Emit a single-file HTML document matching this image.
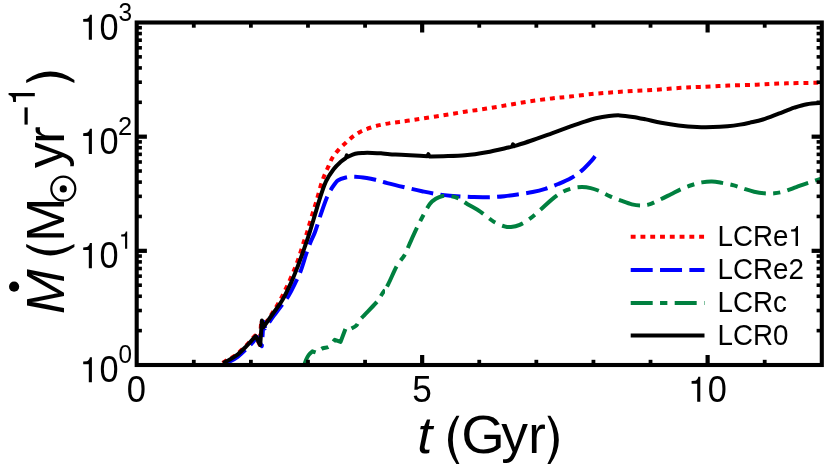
<!DOCTYPE html><html><head><meta charset="utf-8"><title>SFR</title>
<style>html,body{margin:0;padding:0;background:#fff;}svg{display:block;will-change:transform;}text{font-family:"Liberation Sans",sans-serif;fill:#000;}</style></head><body>
<svg width="830" height="471" viewBox="0 0 830 471">
<rect x="0" y="0" width="830" height="471" fill="#fff"/>
<defs><clipPath id="ax"><rect x="136.70" y="22.50" width="685.10" height="342.50"/></clipPath><clipPath id="bA"><rect x="0" y="0" width="450" height="471"/></clipPath><clipPath id="bB"><rect x="450" y="0" width="400" height="471"/></clipPath><clipPath id="gA"><rect x="0" y="0" width="385.00" height="471"/></clipPath><clipPath id="gB"><rect x="385.00" y="0" width="500" height="471"/></clipPath></defs>
<g clip-path="url(#ax)" fill="none" stroke-width="4.00" stroke-linejoin="round" stroke-linecap="butt">
<path d="M222.60 362.85 C223.00 362.60 222.85 362.62 225.00 361.35 C227.15 360.08 232.05 357.83 235.50 355.25 C238.95 352.67 242.43 349.12 245.70 345.85 C248.97 342.58 253.53 337.35 255.10 335.65 C255.85 337.13 258.85 343.07 259.60 344.55 C259.88 340.48 261.02 324.22 261.30 320.15 C261.57 321.25 262.63 325.65 262.90 326.75 C264.37 324.63 268.43 319.24 271.70 314.05 C274.97 308.86 278.53 303.49 282.50 295.60 C286.47 287.71 291.88 275.85 295.50 266.70 C299.12 257.55 302.23 246.57 304.20 240.70 C306.17 234.83 306.03 235.62 307.30 231.50 C308.57 227.38 310.33 220.87 311.80 216.00 C313.27 211.13 314.53 207.60 316.10 202.30 C317.67 197.00 319.73 188.90 321.20 184.20 C322.67 179.50 323.63 177.20 324.90 174.10 C326.17 171.00 327.55 168.32 328.80 165.60 C330.05 162.88 330.72 160.52 332.40 157.80 C334.08 155.08 336.62 151.83 338.90 149.30 C341.18 146.77 343.68 144.78 346.10 142.60 C348.52 140.42 350.85 138.10 353.40 136.20 C355.95 134.30 358.47 132.65 361.40 131.20 C364.33 129.75 367.77 128.55 371.00 127.50 C374.23 126.45 377.63 125.63 380.80 124.90 C383.97 124.17 386.92 123.60 390.00 123.10 C393.08 122.60 396.07 122.32 399.30 121.90 C402.53 121.48 405.67 121.13 409.40 120.60 C413.13 120.07 416.03 119.58 421.70 118.70 C427.37 117.82 436.17 116.47 443.40 115.30 C450.63 114.13 457.88 112.82 465.10 111.70 C472.32 110.58 479.48 109.73 486.70 108.60 C493.92 107.47 501.17 106.12 508.40 104.90 C515.63 103.68 522.87 102.38 530.10 101.30 C537.33 100.22 545.15 99.18 551.80 98.40 C558.45 97.62 563.35 97.33 570.00 96.60 C576.65 95.87 584.47 94.72 591.70 94.00 C598.93 93.28 606.17 92.83 613.40 92.30 C620.63 91.77 627.88 91.23 635.10 90.80 C642.32 90.37 649.48 90.17 656.70 89.70 C663.92 89.23 671.17 88.47 678.40 88.00 C685.63 87.53 691.78 87.30 700.10 86.90 C708.42 86.50 718.88 85.97 728.30 85.60 C737.72 85.23 748.22 85.03 756.60 84.70 C764.98 84.37 771.78 83.87 778.60 83.60 C785.42 83.33 790.18 83.25 797.50 83.10 C804.82 82.95 818.33 82.77 822.50 82.70" stroke="#ff0000" stroke-dasharray="4.89 4.89" stroke-dashoffset="0"/>
<path d="M224.80 364.40 C225.20 364.15 225.05 364.17 227.20 362.90 C229.35 361.63 234.25 359.38 237.70 356.80 C241.15 354.22 244.63 350.67 247.90 347.40 C251.17 344.13 255.73 338.90 257.30 337.20 C258.05 338.68 261.05 344.62 261.80 346.10 C262.08 342.03 263.22 325.77 263.50 321.70 C263.77 322.80 264.83 327.20 265.10 328.30 C266.57 326.18 270.05 320.93 273.90 315.60 C277.75 310.27 284.50 302.03 288.20 296.30 C291.90 290.57 293.93 285.65 296.10 281.20 C298.27 276.75 299.50 274.18 301.20 269.60 C302.90 265.02 304.73 258.28 306.30 253.70 C307.87 249.12 309.12 245.80 310.60 242.10 C312.08 238.40 313.43 236.32 315.20 231.50 C316.97 226.68 319.23 218.90 321.20 213.20 C323.17 207.50 325.20 201.52 327.00 197.30 C328.80 193.08 330.17 190.73 332.00 187.90 C333.83 185.07 335.58 182.05 338.00 180.30 C340.42 178.55 343.63 178.00 346.50 177.40 C349.37 176.80 351.83 176.60 355.20 176.70 C358.57 176.80 363.33 177.48 366.70 178.00 C370.07 178.52 371.97 178.95 375.40 179.80 C378.83 180.65 382.42 181.85 387.30 183.10 C392.18 184.35 398.92 185.95 404.70 187.30 C410.48 188.65 416.22 190.00 422.00 191.20 C427.78 192.40 433.62 193.67 439.40 194.50 C445.18 195.33 450.92 195.77 456.70 196.20 C462.48 196.63 468.32 196.95 474.10 197.10 C479.88 197.25 486.33 197.25 491.40 197.10 C496.47 196.95 500.15 196.63 504.50 196.20 C508.85 195.77 512.82 195.20 517.50 194.50 C522.18 193.80 527.98 192.95 532.60 192.00 C537.22 191.05 540.93 190.13 545.20 188.80 C549.47 187.47 553.87 185.80 558.20 184.00 C562.53 182.20 567.23 180.27 571.20 178.00 C575.17 175.73 578.75 173.12 582.00 170.40 C585.25 167.68 588.52 164.05 590.70 161.70 C592.88 159.35 594.37 157.20 595.10 156.30" stroke="#0000ff" stroke-dasharray="22 7.33" stroke-dashoffset="-3.3" clip-path="url(#bA)"/>
<path d="M224.80 364.40 C225.20 364.15 225.05 364.17 227.20 362.90 C229.35 361.63 234.25 359.38 237.70 356.80 C241.15 354.22 244.63 350.67 247.90 347.40 C251.17 344.13 255.73 338.90 257.30 337.20 C258.05 338.68 261.05 344.62 261.80 346.10 C262.08 342.03 263.22 325.77 263.50 321.70 C263.77 322.80 264.83 327.20 265.10 328.30 C266.57 326.18 270.05 320.93 273.90 315.60 C277.75 310.27 284.50 302.03 288.20 296.30 C291.90 290.57 293.93 285.65 296.10 281.20 C298.27 276.75 299.50 274.18 301.20 269.60 C302.90 265.02 304.73 258.28 306.30 253.70 C307.87 249.12 309.12 245.80 310.60 242.10 C312.08 238.40 313.43 236.32 315.20 231.50 C316.97 226.68 319.23 218.90 321.20 213.20 C323.17 207.50 325.20 201.52 327.00 197.30 C328.80 193.08 330.17 190.73 332.00 187.90 C333.83 185.07 335.58 182.05 338.00 180.30 C340.42 178.55 343.63 178.00 346.50 177.40 C349.37 176.80 351.83 176.60 355.20 176.70 C358.57 176.80 363.33 177.48 366.70 178.00 C370.07 178.52 371.97 178.95 375.40 179.80 C378.83 180.65 382.42 181.85 387.30 183.10 C392.18 184.35 398.92 185.95 404.70 187.30 C410.48 188.65 416.22 190.00 422.00 191.20 C427.78 192.40 433.62 193.67 439.40 194.50 C445.18 195.33 450.92 195.77 456.70 196.20 C462.48 196.63 468.32 196.95 474.10 197.10 C479.88 197.25 486.33 197.25 491.40 197.10 C496.47 196.95 500.15 196.63 504.50 196.20 C508.85 195.77 512.82 195.20 517.50 194.50 C522.18 193.80 527.98 192.95 532.60 192.00 C537.22 191.05 540.93 190.13 545.20 188.80 C549.47 187.47 553.87 185.80 558.20 184.00 C562.53 182.20 567.23 180.27 571.20 178.00 C575.17 175.73 578.75 173.12 582.00 170.40 C585.25 167.68 588.52 164.05 590.70 161.70 C592.88 159.35 594.37 157.20 595.10 156.30" stroke="#0000ff" stroke-dasharray="22 7.33" stroke-dashoffset="-1.4" clip-path="url(#bB)"/>
<path d="M304.00 366.00 C304.33 365.00 305.20 361.85 306.00 360.00 C306.80 358.15 307.73 356.35 308.80 354.90 C309.87 353.45 311.80 351.90 312.40 351.30 C313.12 351.55 315.98 352.55 316.70 352.80 C317.67 352.07 320.45 349.43 322.50 348.40 C324.55 347.37 326.95 348.03 329.00 346.60 C331.05 345.17 333.83 340.93 334.80 339.80 C335.77 340.15 339.63 341.55 340.60 341.90 C341.45 339.62 344.85 330.48 345.70 328.20 C346.53 328.32 349.87 328.78 350.70 328.90 C351.67 328.30 354.82 326.98 356.50 325.30 C358.18 323.62 357.55 322.53 360.80 318.80 C364.05 315.07 372.50 306.95 376.00 302.90 C379.50 298.85 379.77 297.60 381.80 294.50 C383.83 291.40 385.73 288.98 388.20 284.30 C390.67 279.62 393.87 271.28 396.60 266.40 C399.33 261.52 402.43 258.77 404.60 255.00 C406.77 251.23 407.52 248.38 409.60 243.80 C411.68 239.22 414.77 232.35 417.10 227.50 C419.43 222.65 421.48 218.62 423.60 214.70 C425.72 210.78 427.77 206.65 429.80 204.00 C431.83 201.35 433.65 200.13 435.80 198.80 C437.95 197.47 440.30 196.47 442.70 196.00 C445.10 195.53 447.57 195.60 450.20 196.00 C452.83 196.40 455.60 197.03 458.50 198.40 C461.40 199.77 463.92 201.97 467.60 204.20 C471.28 206.43 476.27 208.90 480.60 211.80 C484.93 214.70 489.62 219.18 493.60 221.60 C497.58 224.02 501.60 225.40 504.50 226.30 C507.40 227.20 508.47 227.25 511.00 227.00 C513.53 226.75 516.48 226.23 519.70 224.80 C522.92 223.37 526.75 220.98 530.30 218.40 C533.85 215.82 537.43 212.43 541.00 209.30 C544.57 206.17 548.12 202.48 551.70 199.60 C555.28 196.72 558.88 193.92 562.50 192.00 C566.12 190.08 570.15 188.92 573.40 188.10 C576.65 187.28 579.12 187.10 582.00 187.10 C584.88 187.10 587.80 187.45 590.70 188.10 C593.60 188.75 596.15 189.62 599.40 191.00 C602.65 192.38 606.58 194.78 610.20 196.40 C613.82 198.02 617.48 199.37 621.10 200.70 C624.72 202.03 628.65 203.60 631.90 204.40 C635.15 205.20 637.70 205.50 640.60 205.50 C643.50 205.50 646.05 205.38 649.30 204.40 C652.55 203.42 656.48 201.30 660.10 199.60 C663.72 197.90 667.38 196.00 671.00 194.20 C674.62 192.40 678.30 190.33 681.80 188.80 C685.30 187.27 688.67 186.07 692.00 185.00 C695.33 183.93 698.48 182.98 701.80 182.40 C705.12 181.82 708.53 181.42 711.90 181.50 C715.27 181.58 718.33 182.25 722.00 182.90 C725.67 183.55 730.23 184.42 733.90 185.40 C737.57 186.38 740.63 187.75 744.00 188.80 C747.37 189.85 750.73 190.95 754.10 191.70 C757.47 192.45 760.83 193.03 764.20 193.30 C767.57 193.57 770.92 193.63 774.30 193.30 C777.68 192.97 780.83 192.33 784.50 191.30 C788.17 190.27 792.37 188.50 796.30 187.10 C800.23 185.70 803.73 184.37 808.10 182.90 C812.47 181.43 820.10 179.07 822.50 178.30" stroke="#00803f" stroke-dasharray="22 7.33 7.33 7.33" stroke-dashoffset="1.5" clip-path="url(#gA)"/>
<path d="M304.00 366.00 C304.33 365.00 305.20 361.85 306.00 360.00 C306.80 358.15 307.73 356.35 308.80 354.90 C309.87 353.45 311.80 351.90 312.40 351.30 C313.12 351.55 315.98 352.55 316.70 352.80 C317.67 352.07 320.45 349.43 322.50 348.40 C324.55 347.37 326.95 348.03 329.00 346.60 C331.05 345.17 333.83 340.93 334.80 339.80 C335.77 340.15 339.63 341.55 340.60 341.90 C341.45 339.62 344.85 330.48 345.70 328.20 C346.53 328.32 349.87 328.78 350.70 328.90 C351.67 328.30 354.82 326.98 356.50 325.30 C358.18 323.62 357.55 322.53 360.80 318.80 C364.05 315.07 372.50 306.95 376.00 302.90 C379.50 298.85 379.77 297.60 381.80 294.50 C383.83 291.40 385.73 288.98 388.20 284.30 C390.67 279.62 393.87 271.28 396.60 266.40 C399.33 261.52 402.43 258.77 404.60 255.00 C406.77 251.23 407.52 248.38 409.60 243.80 C411.68 239.22 414.77 232.35 417.10 227.50 C419.43 222.65 421.48 218.62 423.60 214.70 C425.72 210.78 427.77 206.65 429.80 204.00 C431.83 201.35 433.65 200.13 435.80 198.80 C437.95 197.47 440.30 196.47 442.70 196.00 C445.10 195.53 447.57 195.60 450.20 196.00 C452.83 196.40 455.60 197.03 458.50 198.40 C461.40 199.77 463.92 201.97 467.60 204.20 C471.28 206.43 476.27 208.90 480.60 211.80 C484.93 214.70 489.62 219.18 493.60 221.60 C497.58 224.02 501.60 225.40 504.50 226.30 C507.40 227.20 508.47 227.25 511.00 227.00 C513.53 226.75 516.48 226.23 519.70 224.80 C522.92 223.37 526.75 220.98 530.30 218.40 C533.85 215.82 537.43 212.43 541.00 209.30 C544.57 206.17 548.12 202.48 551.70 199.60 C555.28 196.72 558.88 193.92 562.50 192.00 C566.12 190.08 570.15 188.92 573.40 188.10 C576.65 187.28 579.12 187.10 582.00 187.10 C584.88 187.10 587.80 187.45 590.70 188.10 C593.60 188.75 596.15 189.62 599.40 191.00 C602.65 192.38 606.58 194.78 610.20 196.40 C613.82 198.02 617.48 199.37 621.10 200.70 C624.72 202.03 628.65 203.60 631.90 204.40 C635.15 205.20 637.70 205.50 640.60 205.50 C643.50 205.50 646.05 205.38 649.30 204.40 C652.55 203.42 656.48 201.30 660.10 199.60 C663.72 197.90 667.38 196.00 671.00 194.20 C674.62 192.40 678.30 190.33 681.80 188.80 C685.30 187.27 688.67 186.07 692.00 185.00 C695.33 183.93 698.48 182.98 701.80 182.40 C705.12 181.82 708.53 181.42 711.90 181.50 C715.27 181.58 718.33 182.25 722.00 182.90 C725.67 183.55 730.23 184.42 733.90 185.40 C737.57 186.38 740.63 187.75 744.00 188.80 C747.37 189.85 750.73 190.95 754.10 191.70 C757.47 192.45 760.83 193.03 764.20 193.30 C767.57 193.57 770.92 193.63 774.30 193.30 C777.68 192.97 780.83 192.33 784.50 191.30 C788.17 190.27 792.37 188.50 796.30 187.10 C800.23 185.70 803.73 184.37 808.10 182.90 C812.47 181.43 820.10 179.07 822.50 178.30" stroke="#00803f" stroke-dasharray="22 7.33 7.33 7.33" stroke-dashoffset="4.8" clip-path="url(#gB)"/>
<path d="M223.20 363.30 C223.60 363.05 223.45 363.07 225.60 361.80 C227.75 360.53 232.65 358.28 236.10 355.70 C239.55 353.12 243.03 349.57 246.30 346.30 C249.57 343.03 254.13 337.80 255.70 336.10 C256.45 337.58 259.45 343.52 260.20 345.00 C260.48 340.93 261.62 324.67 261.90 320.60 C262.17 321.70 263.23 326.10 263.50 327.20 C264.97 325.08 269.15 319.03 272.30 314.50 C275.45 309.97 279.27 305.32 282.40 300.00 C285.53 294.68 288.57 288.15 291.10 282.60 C293.63 277.05 295.55 272.00 297.60 266.70 C299.65 261.40 301.40 256.48 303.40 250.80 C305.40 245.12 307.67 238.63 309.60 232.60 C311.53 226.57 313.23 220.48 315.00 214.60 C316.77 208.72 318.37 202.85 320.20 197.30 C322.03 191.75 323.77 185.98 326.00 181.30 C328.23 176.62 331.13 172.45 333.60 169.20 C336.07 165.95 338.77 163.65 340.80 161.80 C342.83 159.95 344.97 158.73 345.80 158.12 C345.97 157.66 346.63 155.81 346.80 155.34 C346.93 155.61 347.47 156.69 347.60 156.96 C348.87 156.42 352.53 154.38 355.20 153.70 C357.87 153.02 360.75 153.03 363.60 152.90 C366.45 152.77 369.40 152.83 372.30 152.90 C375.20 152.97 378.12 153.07 381.00 153.30 C383.88 153.53 386.23 154.05 389.60 154.30 C392.97 154.55 396.13 154.55 401.20 154.80 C406.27 155.05 415.63 155.57 420.00 155.80 C424.37 156.03 426.17 156.12 427.40 156.18 C427.57 155.85 428.23 154.53 428.40 154.20 C428.53 154.57 429.07 156.04 429.20 156.41 C431.57 156.38 437.42 156.39 443.40 156.20 C449.38 156.01 457.88 155.97 465.10 155.30 C472.32 154.63 479.48 153.50 486.70 152.20 C493.92 150.90 504.18 148.43 508.40 147.50 C512.62 146.57 511.40 146.77 512.00 146.62 C512.17 146.24 512.83 144.71 513.00 144.32 C513.13 144.65 513.67 145.96 513.80 146.28 C516.52 145.40 523.77 143.16 530.10 141.00 C536.43 138.84 545.15 135.68 551.80 133.30 C558.45 130.92 564.80 128.55 570.00 126.70 C575.20 124.85 578.67 123.60 583.00 122.20 C587.33 120.80 591.67 119.33 596.00 118.30 C600.33 117.27 605.02 116.48 609.00 116.00 C612.98 115.52 615.92 115.25 619.90 115.40 C623.88 115.55 628.57 116.23 632.90 116.90 C637.23 117.57 641.20 118.43 645.90 119.40 C650.60 120.37 655.68 121.70 661.10 122.70 C666.52 123.70 672.42 124.68 678.40 125.40 C684.38 126.12 691.23 126.72 697.00 127.00 C702.77 127.28 707.92 127.23 713.00 127.10 C718.08 126.97 723.00 126.62 727.50 126.20 C732.00 125.78 736.25 125.20 740.00 124.60 C743.75 124.00 746.18 123.45 750.00 122.60 C753.82 121.75 758.13 120.98 762.90 119.50 C767.67 118.02 773.37 115.67 778.60 113.70 C783.83 111.73 789.58 109.28 794.30 107.70 C799.02 106.12 802.20 105.02 806.90 104.20 C811.60 103.38 819.90 103.03 822.50 102.80" stroke="#000"/>
</g>
<g stroke="#000" fill="none"><line x1="193.79" y1="365.00" x2="193.79" y2="359.80" stroke-width="3.8"/><line x1="193.79" y1="22.50" x2="193.79" y2="27.70" stroke-width="3.8"/><line x1="250.88" y1="365.00" x2="250.88" y2="359.80" stroke-width="3.8"/><line x1="250.88" y1="22.50" x2="250.88" y2="27.70" stroke-width="3.8"/><line x1="307.97" y1="365.00" x2="307.97" y2="359.80" stroke-width="3.8"/><line x1="307.97" y1="22.50" x2="307.97" y2="27.70" stroke-width="3.8"/><line x1="365.07" y1="365.00" x2="365.07" y2="359.80" stroke-width="3.8"/><line x1="365.07" y1="22.50" x2="365.07" y2="27.70" stroke-width="3.8"/><line x1="422.16" y1="365.00" x2="422.16" y2="355.00" stroke-width="4.2"/><line x1="422.16" y1="22.50" x2="422.16" y2="32.50" stroke-width="4.2"/><line x1="479.25" y1="365.00" x2="479.25" y2="359.80" stroke-width="3.8"/><line x1="479.25" y1="22.50" x2="479.25" y2="27.70" stroke-width="3.8"/><line x1="536.34" y1="365.00" x2="536.34" y2="359.80" stroke-width="3.8"/><line x1="536.34" y1="22.50" x2="536.34" y2="27.70" stroke-width="3.8"/><line x1="593.43" y1="365.00" x2="593.43" y2="359.80" stroke-width="3.8"/><line x1="593.43" y1="22.50" x2="593.43" y2="27.70" stroke-width="3.8"/><line x1="650.52" y1="365.00" x2="650.52" y2="359.80" stroke-width="3.8"/><line x1="650.52" y1="22.50" x2="650.52" y2="27.70" stroke-width="3.8"/><line x1="707.62" y1="365.00" x2="707.62" y2="355.00" stroke-width="4.2"/><line x1="707.62" y1="22.50" x2="707.62" y2="32.50" stroke-width="4.2"/><line x1="764.71" y1="365.00" x2="764.71" y2="359.80" stroke-width="3.8"/><line x1="764.71" y1="22.50" x2="764.71" y2="27.70" stroke-width="3.8"/><line x1="136.70" y1="330.63" x2="141.90" y2="330.63" stroke-width="3.6"/><line x1="821.80" y1="330.63" x2="816.60" y2="330.63" stroke-width="3.6"/><line x1="136.70" y1="310.53" x2="141.90" y2="310.53" stroke-width="3.6"/><line x1="821.80" y1="310.53" x2="816.60" y2="310.53" stroke-width="3.6"/><line x1="136.70" y1="296.26" x2="141.90" y2="296.26" stroke-width="3.6"/><line x1="821.80" y1="296.26" x2="816.60" y2="296.26" stroke-width="3.6"/><line x1="136.70" y1="285.20" x2="141.90" y2="285.20" stroke-width="3.6"/><line x1="821.80" y1="285.20" x2="816.60" y2="285.20" stroke-width="3.6"/><line x1="136.70" y1="276.16" x2="141.90" y2="276.16" stroke-width="3.6"/><line x1="821.80" y1="276.16" x2="816.60" y2="276.16" stroke-width="3.6"/><line x1="136.70" y1="268.52" x2="141.90" y2="268.52" stroke-width="3.6"/><line x1="821.80" y1="268.52" x2="816.60" y2="268.52" stroke-width="3.6"/><line x1="136.70" y1="261.90" x2="141.90" y2="261.90" stroke-width="3.6"/><line x1="821.80" y1="261.90" x2="816.60" y2="261.90" stroke-width="3.6"/><line x1="136.70" y1="256.06" x2="141.90" y2="256.06" stroke-width="3.6"/><line x1="821.80" y1="256.06" x2="816.60" y2="256.06" stroke-width="3.6"/><line x1="136.70" y1="250.83" x2="146.90" y2="250.83" stroke-width="4.2"/><line x1="821.80" y1="250.83" x2="811.60" y2="250.83" stroke-width="4.2"/><line x1="136.70" y1="216.47" x2="141.90" y2="216.47" stroke-width="3.6"/><line x1="821.80" y1="216.47" x2="816.60" y2="216.47" stroke-width="3.6"/><line x1="136.70" y1="196.36" x2="141.90" y2="196.36" stroke-width="3.6"/><line x1="821.80" y1="196.36" x2="816.60" y2="196.36" stroke-width="3.6"/><line x1="136.70" y1="182.10" x2="141.90" y2="182.10" stroke-width="3.6"/><line x1="821.80" y1="182.10" x2="816.60" y2="182.10" stroke-width="3.6"/><line x1="136.70" y1="171.03" x2="141.90" y2="171.03" stroke-width="3.6"/><line x1="821.80" y1="171.03" x2="816.60" y2="171.03" stroke-width="3.6"/><line x1="136.70" y1="161.99" x2="141.90" y2="161.99" stroke-width="3.6"/><line x1="821.80" y1="161.99" x2="816.60" y2="161.99" stroke-width="3.6"/><line x1="136.70" y1="154.35" x2="141.90" y2="154.35" stroke-width="3.6"/><line x1="821.80" y1="154.35" x2="816.60" y2="154.35" stroke-width="3.6"/><line x1="136.70" y1="147.73" x2="141.90" y2="147.73" stroke-width="3.6"/><line x1="821.80" y1="147.73" x2="816.60" y2="147.73" stroke-width="3.6"/><line x1="136.70" y1="141.89" x2="141.90" y2="141.89" stroke-width="3.6"/><line x1="821.80" y1="141.89" x2="816.60" y2="141.89" stroke-width="3.6"/><line x1="136.70" y1="136.67" x2="146.90" y2="136.67" stroke-width="4.2"/><line x1="821.80" y1="136.67" x2="811.60" y2="136.67" stroke-width="4.2"/><line x1="136.70" y1="102.30" x2="141.90" y2="102.30" stroke-width="3.6"/><line x1="821.80" y1="102.30" x2="816.60" y2="102.30" stroke-width="3.6"/><line x1="136.70" y1="82.20" x2="141.90" y2="82.20" stroke-width="3.6"/><line x1="821.80" y1="82.20" x2="816.60" y2="82.20" stroke-width="3.6"/><line x1="136.70" y1="67.93" x2="141.90" y2="67.93" stroke-width="3.6"/><line x1="821.80" y1="67.93" x2="816.60" y2="67.93" stroke-width="3.6"/><line x1="136.70" y1="56.87" x2="141.90" y2="56.87" stroke-width="3.6"/><line x1="821.80" y1="56.87" x2="816.60" y2="56.87" stroke-width="3.6"/><line x1="136.70" y1="47.83" x2="141.90" y2="47.83" stroke-width="3.6"/><line x1="821.80" y1="47.83" x2="816.60" y2="47.83" stroke-width="3.6"/><line x1="136.70" y1="40.18" x2="141.90" y2="40.18" stroke-width="3.6"/><line x1="821.80" y1="40.18" x2="816.60" y2="40.18" stroke-width="3.6"/><line x1="136.70" y1="33.56" x2="141.90" y2="33.56" stroke-width="3.6"/><line x1="821.80" y1="33.56" x2="816.60" y2="33.56" stroke-width="3.6"/><line x1="136.70" y1="27.72" x2="141.90" y2="27.72" stroke-width="3.6"/><line x1="821.80" y1="27.72" x2="816.60" y2="27.72" stroke-width="3.6"/></g>
<rect x="136.70" y="22.50" width="685.10" height="342.50" fill="none" stroke="#000" stroke-width="4.1"/>
<path d="M0.000,0.000 L0.000,-25.100 L-2.000,-25.100 C-2.400,-23.000 -3.500,-21.600 -5.000,-21.100 L-8.700,-20.700 L-8.700,-18.050 L-3.100,-18.050 L-3.100,0.000 Z" transform="translate(91.9 382.30)"/>
<text transform="translate(99.56 382.30) scale(0.9451 1)" font-size="36.30">0</text>
<text transform="translate(118.45 363.00) scale(0.9707 1)" font-size="25.00">0</text>
<path d="M0.000,0.000 L0.000,-25.100 L-2.000,-25.100 C-2.400,-23.000 -3.500,-21.600 -5.000,-21.100 L-8.700,-20.700 L-8.700,-18.050 L-3.100,-18.050 L-3.100,0.000 Z" transform="translate(91.9 268.13)"/>
<text transform="translate(99.56 268.13) scale(0.9451 1)" font-size="36.30">0</text>
<path d="M0.000,0.000 L0.000,-17.319 L-1.380,-17.319 C-1.656,-15.870 -2.415,-14.904 -3.450,-14.559 L-6.003,-14.283 L-6.003,-12.454 L-2.139,-12.454 L-2.139,0.000 Z" transform="translate(127.2 248.83)"/>
<path d="M0.000,0.000 L0.000,-25.100 L-2.000,-25.100 C-2.400,-23.000 -3.500,-21.600 -5.000,-21.100 L-8.700,-20.700 L-8.700,-18.050 L-3.100,-18.050 L-3.100,0.000 Z" transform="translate(91.9 153.97)"/>
<text transform="translate(99.56 153.97) scale(0.9451 1)" font-size="36.30">0</text>
<text transform="translate(118.12 134.67) scale(1.0185 1)" font-size="25.00">2</text>
<path d="M0.000,0.000 L0.000,-25.100 L-2.000,-25.100 C-2.400,-23.000 -3.500,-21.600 -5.000,-21.100 L-8.700,-20.700 L-8.700,-18.050 L-3.100,-18.050 L-3.100,0.000 Z" transform="translate(91.9 39.80)"/>
<text transform="translate(99.56 39.80) scale(0.9451 1)" font-size="36.30">0</text>
<text transform="translate(118.47 20.50) scale(0.9787 1)" font-size="25.00">3</text>
<text transform="translate(126.85 401.75) scale(0.9509 1)" font-size="36.30">0</text>
<text transform="translate(412.19 401.75) scale(0.9703 1)" font-size="36.30">5</text>
<path d="M0.000,0.000 L0.000,-25.100 L-2.000,-25.100 C-2.400,-23.000 -3.500,-21.600 -5.000,-21.100 L-8.700,-20.700 L-8.700,-18.050 L-3.100,-18.050 L-3.100,0.000 Z" transform="translate(700.3 401.75)"/>
<text transform="translate(707.66 401.75) scale(0.9451 1)" font-size="36.30">0</text>
<text transform="translate(417.13 453.20) scale(1.0341 1)" font-size="52.50" font-style="italic">t</text>
<path d="M8.40,-37.50 Q-8.40,-13.40 8.40,10.70 L11.40,10.70 Q-1.80,-13.40 11.40,-37.50 Z" transform="translate(448.0 453.20)"/>
<text transform="translate(461.18 453.20) scale(1.0268 1)" font-size="54.60">G</text>
<text transform="translate(501.37 452.40) scale(1.0127 1)" font-size="52.80">y</text>
<text transform="translate(528.29 453.20) scale(0.9869 1)" font-size="53.50">r</text>
<path d="M3.00,-37.50 Q19.80,-13.40 3.00,10.70 L0.00,10.70 Q13.20,-13.40 0.00,-37.50 Z" transform="translate(547.4 453.20)"/>
<text transform="translate(63.70 314.26) rotate(-90) scale(0.9945 1)" font-size="54.40" font-style="italic">M</text>
<circle cx="14.1" cy="286.7" r="5.1" fill="#000"/>
<path d="M8.40,-37.50 Q-8.40,-13.40 8.40,10.70 L11.40,10.70 Q-1.80,-13.40 11.40,-37.50 Z" transform="translate(63.70 255.4) rotate(-90)"/>
<text transform="translate(63.70 241.88) rotate(-90) scale(0.9810 1)" font-size="54.40">M</text>
<circle cx="63.3" cy="188.7" r="12.0" fill="none" stroke="#000" stroke-width="2.2"/><circle cx="63.3" cy="188.9" r="3.6" fill="#000"/>
<text transform="translate(62.90 167.93) rotate(-90) scale(0.9783 1)" font-size="52.80">y</text>
<text transform="translate(63.70 143.75) rotate(-90) scale(0.9811 1)" font-size="53.00">r</text>
<rect x="24.5" y="107.4" width="3.2" height="17.2" fill="#000"/>
<path d="M0.000,0.000 L0.000,-26.204 L-2.088,-26.204 C-2.506,-24.012 -3.654,-22.550 -5.220,-22.028 L-9.083,-21.611 L-9.083,-18.844 L-3.236,-18.844 L-3.236,0.000 Z" transform="translate(34.8 92.9) rotate(-90)"/>
<path d="M3.00,-37.50 Q19.80,-13.40 3.00,10.70 L0.00,10.70 Q13.20,-13.40 0.00,-37.50 Z" transform="translate(63.70 83.0) rotate(-90)"/>
<g fill="none" stroke-width="4.00">
<line x1="630.7" y1="236.8" x2="704.5" y2="236.8" stroke="#ff0000" stroke-dasharray="4.89 4.89"/>
<line x1="630.7" y1="269.9" x2="704.5" y2="269.9" stroke="#0000ff" stroke-dasharray="22 7.33"/>
<line x1="630.7" y1="302.9" x2="704.5" y2="302.9" stroke="#00803f" stroke-dasharray="22 7.33 7.33 7.33"/>
<line x1="630.7" y1="335.6" x2="704.5" y2="335.6" stroke="#000"/>
</g>
<text transform="translate(717.62 245.90) scale(0.9535 1)" font-size="29.10">LCRe</text>
<path d="M0.000,0.000 L0.000,-19.955 L-1.590,-19.955 C-1.908,-18.285 -2.783,-17.172 -3.975,-16.775 L-6.917,-16.457 L-6.917,-14.350 L-2.465,-14.350 L-2.465,0.000 Z" transform="translate(798.0 245.90)"/>
<text transform="translate(717.62 278.90) scale(0.9535 1)" font-size="29.10">LCRe2</text>
<text transform="translate(717.62 311.90) scale(0.9535 1)" font-size="29.10">LCRc</text>
<text transform="translate(717.62 344.90) scale(0.9535 1)" font-size="29.10">LCR0</text>
</svg></body></html>
